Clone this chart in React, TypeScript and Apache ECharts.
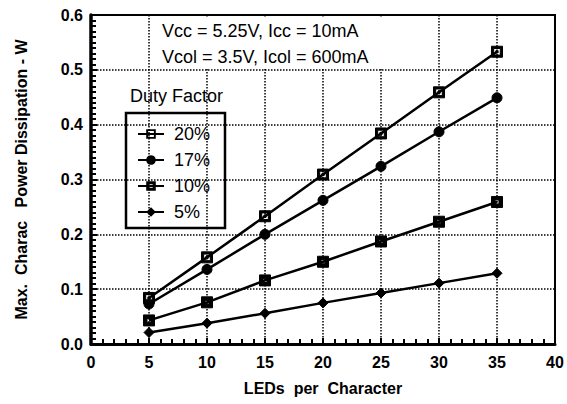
import React, { useEffect, useRef } from "react";
import * as echarts from "echarts";

const leds = [5, 10, 15, 20, 25, 30, 35];
const duty20 = [0.084, 0.158, 0.233, 0.309, 0.384, 0.459, 0.533];
const duty17 = [0.073, 0.136, 0.2, 0.262, 0.324, 0.387, 0.449];
const duty10 = [0.043, 0.076, 0.116, 0.15, 0.187, 0.223, 0.259];
const duty5 = [0.021, 0.038, 0.056, 0.075, 0.093, 0.111, 0.129];
const seriesNames = ["20%", "17%", "10%", "5%"];
const annotationLines = ["Vcc = 5.25V, Icc = 10mA", "Vcol = 3.5V, Icol = 600mA"];

const FONT = "'Liberation Sans', Arial, Helvetica, sans-serif";

const symRing = "path://M0,0H10V10H0Z M2,2V8H8V2Z M4,4H6V6H4Z";
const symThick = "path://M0,0H10V10H0Z M3.2,3.2V6.8H6.8V3.2Z";

export default function App() {
  const ref = useRef<HTMLDivElement>(null);
  useEffect(() => {
    if (!ref.current) return;
    const chart = echarts.init(ref.current, undefined, { renderer: "svg" });
    const pair = (ys: number[]) => leds.map((x, i) => [x, ys[i]]);
    const mk = (name: string, ys: number[], symbol: string, size: number) => ({
      name,
      type: "line",
      data: pair(ys),
      symbol,
      symbolSize: size,
      showAllSymbol: true,
      lineStyle: { color: "#000", width: 2.5 },
      itemStyle: { color: "#000", borderColor: "#000" },
      z: 3,
    });
    chart.setOption({
      animation: false,
      backgroundColor: "#fff",
      textStyle: { fontFamily: FONT },
      grid: {
        left: 91,
        right: 12,
        top: 15,
        bottom: 60,
        outerBoundsMode: "none",
        containLabel: false,
        show: true,
        borderColor: "#000",
        borderWidth: 2,
        backgroundColor: "transparent",
      },
      xAxis: {
        type: "value",
        min: 0,
        max: 40,
        interval: 5,
        name: "LEDs  per  Character",
        nameLocation: "middle",
        nameGap: 36,
        nameTextStyle: { color: "#000", fontSize: 16, fontWeight: "bold", fontFamily: FONT },
        axisLine: { lineStyle: { color: "#000", width: 3 } },
        axisTick: { show: true, inside: true, length: 6, lineStyle: { color: "#000", width: 2 } },
        minorTick: { show: true, splitNumber: 5, length: 5, lineStyle: { color: "#000", width: 2 } },
        axisLabel: { color: "#000", fontSize: 16, fontWeight: "bold", margin: 10, fontFamily: FONT },
        splitLine: { show: true, lineStyle: { color: "#000", type: "dotted", width: 1.5 } },
      },
      yAxis: {
        type: "value",
        min: 0,
        max: 0.6,
        interval: 0.1,
        name: "Max.  Charac   Power Dissipation - W",
        nameLocation: "middle",
        nameGap: 62,
        nameTextStyle: { color: "#000", fontSize: 16, fontWeight: "bold", fontFamily: FONT },
        axisLine: { show: true, lineStyle: { color: "#000", width: 3.5 } },
        axisTick: { show: true, inside: true, length: 6, lineStyle: { color: "#000", width: 2 } },
        minorTick: { show: true, splitNumber: 10, length: 5, lineStyle: { color: "#000", width: 2 } },
        axisLabel: {
          color: "#000",
          fontSize: 16,
          fontWeight: "bold",
          margin: 8,
          fontFamily: FONT,
          formatter: (v: number) => v.toFixed(1),
        },
        splitLine: { show: true, lineStyle: { color: "#000", type: "dotted", width: 1.5 } },
      },
      legend: {
        orient: "vertical",
        left: 132,
        top: 120,
        itemWidth: 26,
        itemHeight: 12,
        itemGap: 8,
        data: seriesNames,
        textStyle: { color: "#000", fontSize: 18, fontFamily: FONT, padding: [0, 0, 0, 5] },
        inactiveColor: "#000",
      },
      graphic: [
        {
          type: "rect",
          z: 10,
          shape: { x: 153, y: 17, width: 230, height: 52 },
          style: { fill: "#fff" },
        },
        {
          type: "text",
          z: 11,
          x: 162,
          y: 31,
          style: {
            text: annotationLines[0],
            fill: "#000",
            font: `18px ${FONT}`,
            verticalAlign: "middle",
          },
        },
        {
          type: "text",
          z: 11,
          x: 162,
          y: 57,
          style: {
            text: annotationLines[1],
            fill: "#000",
            font: `18px ${FONT}`,
            verticalAlign: "middle",
          },
        },
        {
          type: "text",
          z: 11,
          x: 130,
          y: 96,
          style: { text: "Duty Factor", fill: "#000", font: `18px ${FONT}`, verticalAlign: "middle" },
        },
        {
          type: "rect",
          z: 11,
          shape: { x: 126, y: 113, width: 99, height: 115 },
          style: { fill: "none", stroke: "#000", lineWidth: 2.5 },
        },
      ],
      series: [
        mk(seriesNames[0], duty20, symRing, 11),
        mk(seriesNames[1], duty17, "circle", 10),
        mk(seriesNames[2], duty10, symThick, 11),
        mk(seriesNames[3], duty5, "diamond", 10),
      ],
    });
    return () => chart.dispose();
  }, []);
  return (
    <div
      ref={ref}
      style={{ position: "fixed", left: 0, top: 0, width: 567, height: 404 }}
    />
  );
}
